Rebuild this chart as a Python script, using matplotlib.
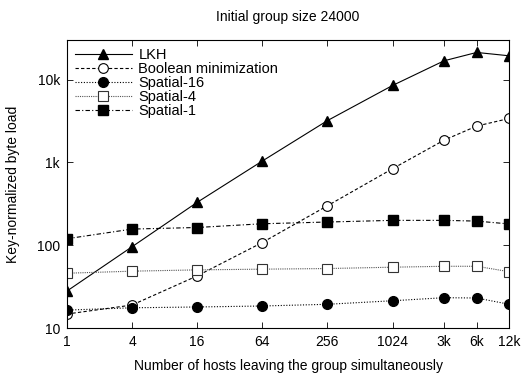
import matplotlib
matplotlib.use("Agg")
import matplotlib.pyplot as plt
from matplotlib.ticker import NullLocator

plt.rcParams['font.family'] = ['Liberation Sans', 'DejaVu Sans']

# data
hosts = [1, 4, 16, 64, 256, 1024, 3072, 6144, 12288]
host_labels = ['1', '4', '16', '64', '256', '1024', '3k', '6k', '12k']

lkh = [28, 96, 330, 1040, 3200, 8500, 16900, 21300, 19400]
boolean_min = [14.8, 19.0, 42.7, 108, 300, 840, 1860, 2750, 3400]
spatial16 = [16.5, 17.6, 18.0, 18.5, 19.4, 21.4, 23.3, 23.1, 19.4]
spatial4 = [46, 48.7, 50.5, 51.5, 52.4, 54.4, 55.8, 55.8, 48]
spatial1 = [120, 157, 164, 182, 191, 200, 200, 196, 181]

y_ticks = [10, 100, 1000, 10000]
y_labels = ['10', '100', '1k', '10k']

fig = plt.figure(figsize=(5.31, 3.75), dpi=100)
ax = fig.add_axes([0.126, 0.125, 0.833, 0.768])

lw = 0.8
ax.plot(hosts, lkh, '-', color='black', lw=lw, marker='^', ms=6.5, label='LKH')
ax.plot(hosts, boolean_min, color='black', lw=lw, ls=(0, (3, 2)), marker='o', ms=7,
        mfc='white', mec='black', mew=0.8, label='Boolean minimization')
ax.plot(hosts, spatial16, color='black', lw=lw, ls=(0, (1, 1.5)), marker='o', ms=7,
        label='Spatial-16')
ax.plot(hosts, spatial4, color='#555555', lw=lw, ls=(0, (1, 1)), marker='s', ms=6.5,
        mfc='white', mec='#333333', mew=0.8, label='Spatial-4')
ax.plot(hosts, spatial1, color='black', lw=lw, ls=(0, (4, 2, 1, 2)), marker='s', ms=6.5,
        label='Spatial-1')

ax.set_xscale('log', base=2)
ax.set_yscale('log')
ax.set_xlim(1, 12288)
ax.set_ylim(10, 30000)
ax.set_xticks(hosts)
ax.set_xticklabels(host_labels)
ax.set_yticks(y_ticks)
ax.set_yticklabels(y_labels)
ax.xaxis.set_minor_locator(NullLocator())
ax.yaxis.set_minor_locator(NullLocator())
ax.tick_params(direction='in', top=True, right=True, length=4, width=0.6,
               labelsize=10, pad=5)
for s in ax.spines.values():
    s.set_linewidth(0.8)

ax.set_title('Initial group size 24000', fontsize=10, pad=14)
ax.set_xlabel('Number of hosts leaving the group simultaneously', fontsize=10, labelpad=7)
ax.set_ylabel('Key-normalized byte load', fontsize=10, labelpad=12)

ax.legend(loc='upper left', frameon=False, fontsize=10.5, handlelength=3.9,
          labelspacing=0.0, borderaxespad=0.15, handletextpad=0.45,
          bbox_to_anchor=(0.0, 1.0))

fig.savefig('out.png', dpi=100)
